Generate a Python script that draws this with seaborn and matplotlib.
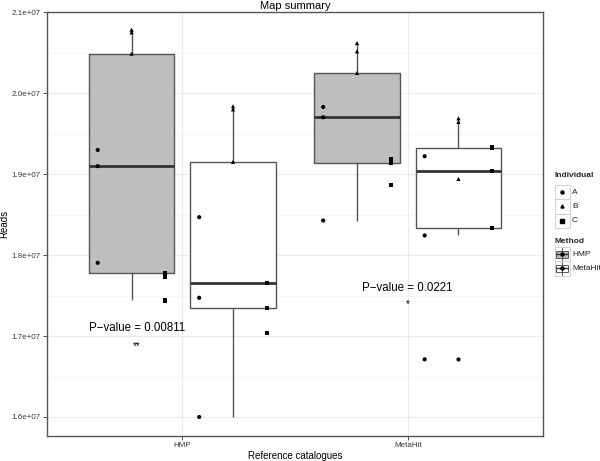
import matplotlib
matplotlib.use("Agg")
import matplotlib.pyplot as plt
import seaborn as sns
import pandas as pd
import numpy as np
from matplotlib.patches import Rectangle
from matplotlib.lines import Line2D

# ---------------- data ----------------
catalogues = ["HMP", "MetaHit"]
methods = ["HMP", "MetaHit"]
individuals = ["A", "B", "C"]

# reads per (catalogue, method, individual) – three replicates each
hmp_hmp_A = [1.930e7, 1.910e7, 1.7905e7]
hmp_hmp_B = [2.0786e7, 2.0753e7, 2.049e7]
hmp_hmp_C = [1.7782e7, 1.7725e7, 1.744e7]

hmp_meta_A = [1.8469e7, 1.7473e7, 1.600e7]
hmp_meta_B = [1.984e7, 1.9802e7, 1.9152e7]
hmp_meta_C = [1.7658e7, 1.7346e7, 1.7041e7]

meta_hmp_A = [1.9831e7, 1.9704e7, 1.8428e7]
meta_hmp_B = [2.0621e7, 2.0519e7, 2.0251e7]
meta_hmp_C = [1.919e7, 1.914e7, 1.8864e7]

meta_meta_A = [1.9222e7, 1.8243e7, 1.6712e7]
meta_meta_B = [1.9691e7, 1.9646e7, 1.8942e7]
meta_meta_C = [1.933e7, 1.904e7, 1.8337e7]

yticks = [1.6e7, 1.7e7, 1.8e7, 1.9e7, 2.0e7, 2.1e7]
ytick_labels = ["1.6e+07", "1.7e+07", "1.8e+07", "1.9e+07", "2.0e+07", "2.1e+07"]

# annotations: (x category position, y value, text, size)
annot_x = [-0.2, -0.2, 1.0, 1.0]
annot_y = [1.710e7, 1.688e7, 1.760e7, 1.740e7]
annot_txt = ["P\u2212value = 0.00811", "**", "P\u2212value = 0.0221", "*"]
annot_size = [8.3, 7, 8.3, 7]

series = {
    ("HMP", "HMP"): {"A": hmp_hmp_A, "B": hmp_hmp_B, "C": hmp_hmp_C},
    ("HMP", "MetaHit"): {"A": hmp_meta_A, "B": hmp_meta_B, "C": hmp_meta_C},
    ("MetaHit", "HMP"): {"A": meta_hmp_A, "B": meta_hmp_B, "C": meta_hmp_C},
    ("MetaHit", "MetaHit"): {"A": meta_meta_A, "B": meta_meta_B, "C": meta_meta_C},
}
rows = []
for (cat, meth), d in series.items():
    for ind, vals in d.items():
        for v in vals:
            rows.append(dict(Catalogue=cat, Method=meth, Individual=ind, Reads=v))
df = pd.DataFrame(rows)

# ---------------- figure ----------------
sns.set_theme(style="white")
plt.rcParams["font.family"] = ["Liberation Sans", "DejaVu Sans"]

fig = plt.figure(figsize=(6, 4.61), dpi=100)
W, H = 600, 461
ax = fig.add_axes([47 / W, 1 - 436 / H, (543 - 47) / W, (436 - 12) / H])

edge = "#555555"
dodge_w = 0.9
sns.boxplot(data=df, x="Catalogue", y="Reads", hue="Method",
            order=catalogues, hue_order=methods,
            palette={"HMP": "#bebebe", "MetaHit": "white"},
            width=dodge_w, gap=0.16, whis=1.5, showcaps=False,
            linecolor=edge, linewidth=1.0,
            medianprops=dict(color="#333333", linewidth=2.0),
            flierprops=dict(marker="o", markerfacecolor="black",
                            markeredgecolor="none", markersize=3.0),
            legend=False, ax=ax, zorder=3)

# points dodged by method and individual
cat_idx = {c: i for i, c in enumerate(catalogues)}
meth_off = {m: (i - 0.5) * dodge_w / 2 for i, m in enumerate(methods)}
ind_off = {k: (i - 1) * 0.15 for i, k in enumerate(individuals)}
df["xpos"] = [cat_idx[c] + meth_off[m] + ind_off[i]
              for c, m, i in zip(df.Catalogue, df.Method, df.Individual)]
sns.scatterplot(data=df, x="xpos", y="Reads", style="Individual",
                markers={"A": "o", "B": "^", "C": "s"}, color="black",
                s=9, linewidth=0, legend=False, ax=ax, zorder=5)

for x, y, t, s in zip(annot_x, annot_y, annot_txt, annot_size):
    ax.text(x, y, t, ha="center", va="center", fontsize=s, color="black", zorder=6)

# axes styling (ggplot theme_bw look)
ax.set_xlim(-0.6, 1.6)
ax.set_ylim(1.5765e7, 2.1005e7)
ax.set_xticks(range(len(catalogues)))
ax.set_xticklabels(catalogues)
ax.set_yticks(yticks)
ax.set_yticklabels(ytick_labels)
ax.set_yticks([1.65e7, 1.75e7, 1.85e7, 1.95e7, 2.05e7], minor=True)
ax.grid(True, which="major", color="#ebebeb", linewidth=0.8, zorder=0)
ax.grid(True, which="minor", axis="y", color="#f4f4f4", linewidth=0.6, zorder=0)
ax.set_axisbelow(True)
ax.tick_params(axis="both", which="major", direction="out", length=3, width=0.6,
               color="#333333", labelsize=5.8, labelcolor="#3a3a3a", pad=1.5,
               bottom=True, left=True)
ax.tick_params(axis="both", which="minor", length=0)
for sp in ax.spines.values():
    sp.set_visible(True)
    sp.set_color(edge)
    sp.set_linewidth(1.0)
ax.set_xlabel("Reference catalogues", fontsize=7, color="black", labelpad=1.5)
ax.set_ylabel("Reads", fontsize=7, color="black", labelpad=1.5)
ax.set_title("Map summary", fontsize=8, color="black", pad=2)

# ---------------- legends (drawn in pixel coordinates) ----------------
lg = fig.add_axes([0, 0, 1, 1])
lg.set_xlim(0, W)
lg.set_ylim(H, 0)
lg.axis("off")

kx, kw, kh = 554.5, 15, 14.3
lg.text(kx, 175, "Individual", fontsize=6, fontweight="bold", ha="left", va="center")
mk = {"A": "o", "B": "^", "C": "s"}
for i, ind in enumerate(individuals):
    top = 185 + i * kh
    lg.add_patch(Rectangle((kx, top), kw, kh, facecolor="white", edgecolor="#cccccc", lw=0.6))
    lg.plot([kx + kw / 2], [top + kh / 2], marker=mk[ind], color="black",
            markersize=2.2, linestyle="none")
    lg.text(kx + kw + 2.5, top + kh / 2, ind, fontsize=6, ha="left", va="center", color="#222222")

lg.text(kx, 241, "Method", fontsize=6, fontweight="bold", ha="left", va="center")
fills = {"HMP": "#bebebe", "MetaHit": "white"}
for i, m in enumerate(methods):
    top = 247 + i * kh
    cy = top + kh / 2
    lg.add_patch(Rectangle((kx, top), kw, kh, facecolor="white", edgecolor="#cccccc", lw=0.6))
    lg.plot([kx + kw / 2] * 2, [top + 1, top + kh - 1], color=edge, lw=0.7)
    lg.add_patch(Rectangle((kx + 1.5, cy - 3.5), kw - 3, 7, facecolor=fills[m],
                           edgecolor=edge, lw=0.7))
    lg.plot([kx + 1.5, kx + kw - 1.5], [cy, cy], color="#333333", lw=1.0)
    lg.plot([kx + kw / 2], [cy], marker="o", color="black", markersize=2.2)
    lg.text(kx + kw + 2.5, cy, m, fontsize=6, ha="left", va="center", color="#222222")

fig.savefig("out.png", dpi=100)
